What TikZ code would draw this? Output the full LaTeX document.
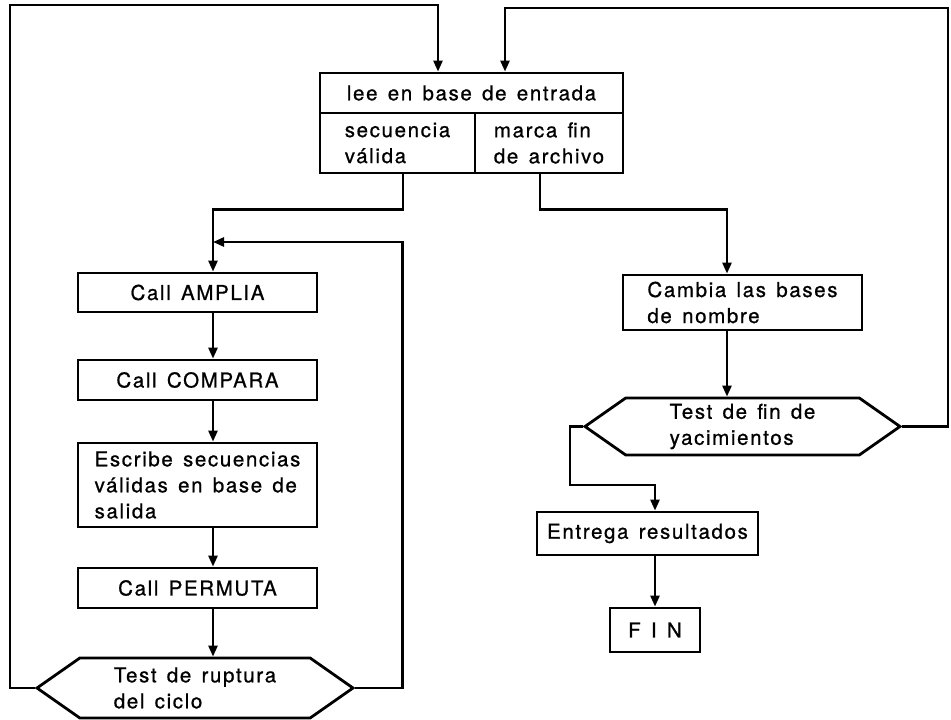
\documentclass[tikz,border=0pt]{standalone}
\usepackage{fontspec}
\setmainfont[LetterSpace=8, WordSpace=1.4, FakeBold=0.8]{TeX Gyre Heros}
\usetikzlibrary{arrows.meta}
\usetikzlibrary{shapes.symbols}

\begin{document}
\begin{tikzpicture}
    [every node/.style={inner sep=0pt, font=\fontsize{20.5pt}{26pt}\selectfont},
     >={Triangle[width=9pt,length=11pt]}]
        \useasboundingbox (0pt, 0pt) rectangle (951pt, -720pt);
        \node (1) [rectangle, minimum width=303pt, minimum height=40pt, line width=2.8pt, draw=black] at (471.5pt, -93pt) {lee en base de entrada};
        \node (2) [rectangle, minimum width=155pt, minimum height=60pt, line width=2.8pt, draw=black, align=left] at (397.5pt, -143pt) {secuencia\\válida};
        \node (3) [rectangle, minimum width=148pt, minimum height=60pt, line width=2.8pt, draw=black, align=left] at (549pt, -143pt) {marca fin\\de archivo};
        \node (4) [rectangle, minimum width=239pt, minimum height=39pt, line width=2.8pt, draw=black] at (197.5pt, -292.5pt) {Call AMPLIA};
        \node (5) [rectangle, minimum width=239pt, minimum height=40pt, line width=2.8pt, draw=black] at (197.5pt, -380pt) {Call COMPARA};
        \node (6) [rectangle, minimum width=239pt, minimum height=84pt, line width=2.8pt, draw=black, align=left] at (197.5pt, -485pt) {Escribe secuencias\\válidas en base de\\salida};
        \node (7) [rectangle, minimum width=239pt, minimum height=40pt, line width=2.8pt, draw=black] at (197.5pt, -588pt) {Call PERMUTA};
        \node (8) [signal, signal to=east and west, signal pointer angle=70, minimum width=316pt, minimum height=60pt, line width=2.8pt, draw=black, align=left] at (195pt, -688pt) {Test de ruptura\\del ciclo};
        \node (9) [rectangle, minimum width=239pt, minimum height=55pt, line width=2.8pt, draw=black, align=left] at (742.5pt, -302.5pt) {Cambia las bases\\de nombre};
        \node (10) [signal, signal to=east and west, signal pointer angle=70, minimum width=315pt, minimum height=57pt, line width=2.8pt, draw=black, align=left] at (742.5pt, -426.5pt) {Test de fin de\\yacimientos};
        \node (11) [rectangle, minimum width=221pt, minimum height=43pt, line width=2.8pt, draw=black] at (647.5pt, -533.5pt) {Entrega resultados};
        \node (12) [rectangle, minimum width=90pt, minimum height=44pt, line width=2.8pt, draw=black] at (655pt, -630pt) {F I N};
        \coordinate (a) at (10pt, -5pt);
        \coordinate (b) at (948pt, -8pt);
        \coordinate (c) at (213pt, -242pt);
        \coordinate (d) at (570pt, -485pt);
        \draw [line width=2.5, ->, color=black] (8.west) -| (a) -| ([xshift=-33.5pt]1.north);
        \draw [line width=2.5, ->, color=black] (10.east) -| (b) -| ([xshift=33.5pt]1.north);
        \draw [line width=2.5, ->, color=black] ([xshift=5.5pt]2.south) -- ++(0pt, -35pt) -| ([xshift=15.5pt]4.north);
        \draw [line width=2.5, ->, color=black] ([xshift=-9pt]3.south) -- ++(0pt, -35pt) -| ([xshift=-15.5pt]9.north);
        \draw [line width=2.5, ->, color=black] ([xshift=15.5pt]4.south) -- ([xshift=15.5pt]5.north);
        \draw [line width=2.5, ->, color=black] ([xshift=15.5pt]5.south) -- ([xshift=15.5pt]6.north);
        \draw [line width=2.5, ->, color=black] ([xshift=15.5pt]6.south) -- ([xshift=15.5pt]7.north);
        \draw [line width=2.5, ->, color=black] ([xshift=15.5pt]7.south) -- ([xshift=18pt]8.north);
        \draw [line width=2.5, ->, color=black] (8.east) -- ++(47pt, 0pt) |- (c);
        \draw [line width=2.5, ->, color=black] ([xshift=-15.5pt]9.south) -- ([xshift=-15.5pt]10.north);
        \draw [line width=2.5, ->, color=black] (10.west) -| (d) -| ([xshift=7.5pt]11.north);
        \draw [line width=2.5, ->, color=black] ([xshift=7.5pt]11.south) -- (12.north);
    \end{tikzpicture}
\end{document}
